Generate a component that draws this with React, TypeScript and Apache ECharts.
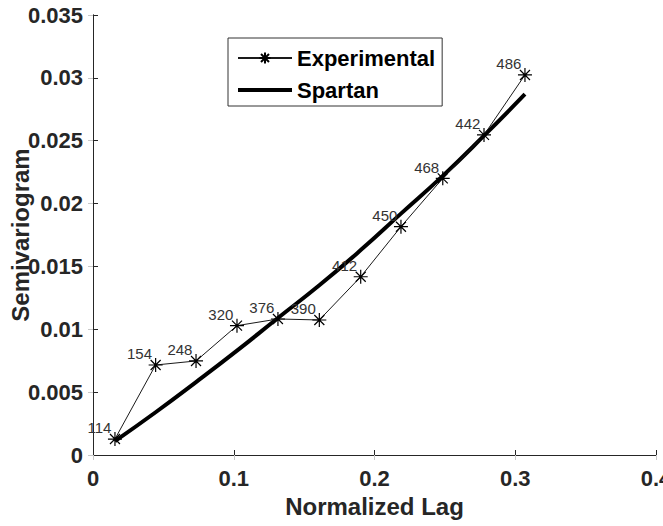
import React, { useEffect, useRef } from "react";
import * as echarts from "echarts";

// Normalized lag of each bin
const lags = [0.0156, 0.0445, 0.0732, 0.1023, 0.1314, 0.1608, 0.1902, 0.2188, 0.2485, 0.2778, 0.3069];
// Experimental semivariogram per bin
const experimental = [0.00127, 0.00716, 0.00748, 0.01029, 0.01082, 0.01074, 0.01418, 0.01816, 0.02201, 0.02546, 0.03023];
// Number of pairs per bin (annotations)
const pairCounts = [114, 154, 248, 320, 376, 390, 412, 450, 468, 442, 486];
// Fitted Spartan model evaluated at the same lags
const spartan = [0.0011, 0.0034, 0.0058, 0.0083, 0.0109, 0.0135, 0.0163, 0.0192, 0.0222, 0.0254, 0.0287];

const xTicks = [0, 0.1, 0.2, 0.3, 0.4];
const yTicks = [0, 0.005, 0.01, 0.015, 0.02, 0.025, 0.03, 0.035];

const FONT = "'Liberation Sans', Arial, Helvetica, sans-serif";
const AXIS_COLOR = "#262626";
const ASTERISK = "path://M0,-7L0,7M-7,0L7,0M-5,-5L5,5M-5,5L5,-5";
const THICK_LINE = "path://M0,0L54,0L54,4L0,4Z";

export default function App() {
  const ref = useRef<HTMLDivElement>(null);

  useEffect(() => {
    if (!ref.current) return;
    const chart = echarts.init(ref.current, undefined, { renderer: "svg" });

    const expData = lags.map((x, i) => ({
      value: [x, experimental[i]],
      label: { formatter: String(pairCounts[i]) },
    }));
    const fitData = lags.map((x, i) => [x, spartan[i]]);

    const fmt = (v: number) => String(Number(v.toFixed(4)));

    chart.setOption({
      animation: false,
      backgroundColor: "#fff",
      grid: {
        left: 93,
        right: 7,
        top: 15,
        bottom: 71,
        containLabel: false,
        outerBoundsMode: "none",
      },
      legend: {
        left: 228,
        top: 38,
        orient: "vertical",
        backgroundColor: "#fff",
        borderColor: "#333",
        borderWidth: 1,
        borderRadius: 0,
        padding: [8, 7, 4, 9],
        itemWidth: 54,
        itemHeight: 14,
        itemGap: 8,
        textStyle: {
          fontFamily: FONT,
          fontWeight: "bold",
          fontSize: 22,
          lineHeight: 24,
          color: "#000",
        },
        data: [
          { name: "Experimental" },
          { name: "Spartan", icon: THICK_LINE, itemStyle: { color: "#000" } },
        ],
      },
      xAxis: [
        {
          type: "value",
          min: 0,
          max: 0.4,
          interval: 0.1,
          name: "Normalized Lag",
          nameLocation: "middle",
          nameGap: 39,
          nameMoveOverlap: false,
          nameTextStyle: { fontFamily: FONT, fontWeight: "bold", fontSize: 24, color: AXIS_COLOR },
          axisLine: { show: true, lineStyle: { color: AXIS_COLOR, width: 1 } },
          axisTick: { show: true, inside: true, length: 5, lineStyle: { color: AXIS_COLOR } },
          axisLabel: {
            margin: 12,
            fontFamily: FONT,
            fontWeight: "bold",
            fontSize: 22,
            color: AXIS_COLOR,
            formatter: (v: number) => (xTicks.includes(Number(v.toFixed(4))) ? fmt(v) : ""),
          },
          splitLine: { show: false },
        },
        {
          type: "value",
          position: "top",
          min: 0,
          max: 0.4,
          interval: 0.1,
          axisLine: { show: true, lineStyle: { color: AXIS_COLOR, width: 1 } },
          axisTick: { show: true, inside: true, length: 5, lineStyle: { color: "#c8c8c8" } },
          axisLabel: { show: false },
          splitLine: { show: false },
        },
      ],
      yAxis: [
        {
          type: "value",
          min: 0,
          max: 0.035,
          interval: 0.005,
          name: "Semivariogram",
          nameLocation: "middle",
          nameGap: 61,
          nameRotate: 90,
          nameMoveOverlap: false,
          nameTextStyle: { fontFamily: FONT, fontWeight: "bold", fontSize: 24, color: AXIS_COLOR },
          axisLine: { show: true, lineStyle: { color: AXIS_COLOR, width: 1 } },
          axisTick: { show: true, inside: true, length: 5, lineStyle: { color: AXIS_COLOR } },
          axisLabel: {
            margin: 10,
            fontFamily: FONT,
            fontWeight: "bold",
            fontSize: 22,
            color: AXIS_COLOR,
            formatter: (v: number) => (yTicks.includes(Number(v.toFixed(4))) ? fmt(v) : ""),
          },
          splitLine: { show: false },
        },
        {
          type: "value",
          position: "right",
          min: 0,
          max: 0.035,
          interval: 0.005,
          axisLine: { show: true, lineStyle: { color: AXIS_COLOR, width: 1 } },
          axisTick: { show: true, inside: true, length: 5, lineStyle: { color: "#c8c8c8" } },
          axisLabel: { show: false },
          splitLine: { show: false },
        },
      ],
      series: [
        {
          name: "Experimental",
          type: "line",
          xAxisIndex: 0,
          yAxisIndex: 0,
          data: expData,
          z: 3,
          lineStyle: { color: "#1a1a1a", width: 1 },
          symbol: ASTERISK,
          symbolSize: 14,
          itemStyle: { color: "rgba(0,0,0,0)", borderColor: "#000", borderWidth: 1.2 },
          label: {
            show: true,
            position: [4, 4],
            align: "right",
            verticalAlign: "bottom",
            fontFamily: FONT,
            fontSize: 15,
            color: "#333",
          },
          emphasis: { disabled: true },
        },
        {
          name: "Spartan",
          type: "line",
          xAxisIndex: 0,
          yAxisIndex: 0,
          data: fitData,
          smooth: true,
          z: 2,
          showSymbol: false,
          symbol: "none",
          lineStyle: { color: "#000", width: 4 },
          itemStyle: { color: "#000" },
          emphasis: { disabled: true },
        },
      ],
    });

    return () => chart.dispose();
  }, []);

  return <div ref={ref} style={{ width: 663, height: 526, position: "absolute", left: 0, top: 0 }} />;
}
